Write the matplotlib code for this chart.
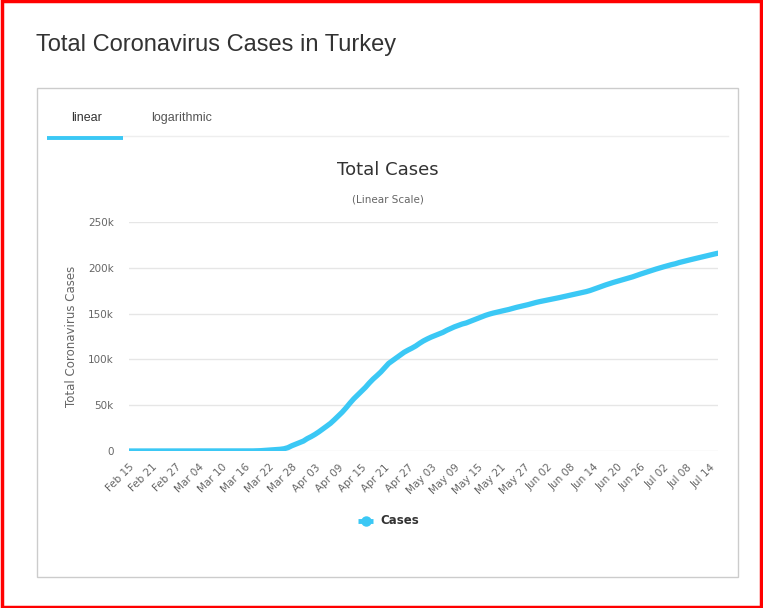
import matplotlib.pyplot as plt
from matplotlib.patches import Rectangle
import matplotlib.lines as mlines
import pandas as pd

# Data: cumulative cases in Turkey, daily from Feb 15 2020
start_date = "2020-02-15"
cases = [0] * 25 + [
    1, 1, 5, 5, 6, 18, 47, 98, 192, 359, 670, 947, 1236, 1529, 1872, 2433,
    3629, 5698, 7402, 9217, 10827,                                     # Mar 11 - Mar 31
    13531, 15679, 18135, 20921, 23934, 27069, 30217, 34109, 38226, 42282,
    47029, 52167, 56956, 61049, 65111, 69392, 74193, 78546, 82329, 86306,
    90980, 95591, 98674, 101790, 104912, 107773, 110130, 112261, 114653,
    117589,                                                             # April
    120204, 122392, 124375, 126045, 127659, 129491, 131744, 133721, 135569,
    137115, 138657, 139771, 141475, 143114, 144749, 146457, 148067, 149435,
    150593, 151615, 152587, 153548, 154500, 155686, 156827, 157814, 158762,
    159797, 160979, 162120, 163103,                                     # May
    163942, 164769, 165555, 166422, 167410, 168340, 169218, 170132, 171121,
    172114, 173036, 174023, 175218, 176677, 178239, 179831, 181298, 182727,
    184031, 185245, 186493, 187685, 188897, 190165, 191657, 193115, 194511,
    195883, 197239, 198613,                                             # June
    199906, 201098, 202284, 203456, 204428, 205758, 206844, 207897, 208938,
    209962, 210965, 211981, 212993, 214001, 214993, 215940,             # Jul 1 - 16
]
dates = pd.date_range(start_date, periods=len(cases), freq="D")
y_ticks = [0, 50000, 100000, 150000, 200000, 250000]
y_tick_labels = ["0", "50k", "100k", "150k", "200k", "250k"]

W, H = 763, 608
line_color = "#3bc8f5"
fig = plt.figure(figsize=(W / 100, H / 100), dpi=100)
fig.patch.set_facecolor("white")

def fx(px):
    return px / W

def fy(py):
    return 1 - py / H

# red outer border
fig.add_artist(Rectangle((0.002, 0.002), 0.996, 0.996, transform=fig.transFigure,
                         fill=False, edgecolor="#ff0000", linewidth=2.5))

# page title
fig.text(fx(36), fy(45), "Total Coronavirus Cases in Turkey", fontsize=17,
         color="#333333", family="Liberation Sans", ha="left", va="center")

# panel box
fig.add_artist(Rectangle((fx(37), fy(577)), fx(738) - fx(37), fy(88) - fy(577),
                         transform=fig.transFigure, fill=False,
                         edgecolor="#cccccc", linewidth=1))

# tabs
fig.text(fx(87), fy(118), "linear", fontsize=9, color="#333333",
         family="Liberation Sans", ha="center", va="center")
fig.text(fx(182), fy(118), "logarithmic", fontsize=9, color="#555555",
         family="Liberation Sans", ha="center", va="center")
fig.add_artist(mlines.Line2D([fx(123), fx(728)], [fy(136), fy(136)],
                             transform=fig.transFigure, color="#eeeeee", linewidth=1))
fig.add_artist(mlines.Line2D([fx(47), fx(123)], [fy(137.5), fy(137.5)],
                             transform=fig.transFigure, color=line_color, linewidth=2.8,
                             solid_capstyle="butt"))

# chart title and subtitle
fig.text(fx(388), fy(170), "Total Cases", fontsize=13, color="#333333",
         ha="center", va="center")
fig.text(fx(388), fy(200), "(Linear Scale)", fontsize=7.5, color="#666666",
         ha="center", va="center")

# plot area
left, right, top, bottom = 129, 718, 222, 451
ax = fig.add_axes([fx(left), fy(bottom), fx(right) - fx(left), fy(top) - fy(bottom)])
ax.plot(dates, cases, color=line_color, linewidth=3.8, solid_capstyle="round",
        solid_joinstyle="round", zorder=3)
ax.set_xlim(dates[0], dates[-1])
ax.set_ylim(0, 250000)

ax.set_yticks(y_ticks)
ax.set_yticklabels(y_tick_labels)
ax.grid(axis="y", color="#e6e6e6", linewidth=1)
ax.set_axisbelow(True)
for s in ax.spines.values():
    s.set_visible(False)

x_ticks = dates[::6]
ax.set_xticks(x_ticks)
ax.set_xticklabels([d.strftime("%b %d") for d in x_ticks], rotation=45,
                   ha="right", rotation_mode="anchor")
ax.tick_params(axis="both", length=0, labelsize=7.5, labelcolor="#666666")
ax.tick_params(axis="y", pad=11)
ax.tick_params(axis="x", pad=8)

ax.set_ylabel("Total Coronavirus Cases", fontsize=8.5, color="#666666", labelpad=7)

# legend
fig.add_artist(mlines.Line2D([fx(358), fx(373)], [fy(521), fy(521)],
                             transform=fig.transFigure, color=line_color, linewidth=3.5,
                             solid_capstyle="butt"))
fig.add_artist(mlines.Line2D([fx(365.5)], [fy(521)], transform=fig.transFigure,
                             color=line_color, marker="o", markersize=6.5))
fig.text(fx(380), fy(521), "Cases", fontsize=8.5, fontweight="bold", color="#333333",
         ha="left", va="center")

fig.savefig("out.png", dpi=100)
